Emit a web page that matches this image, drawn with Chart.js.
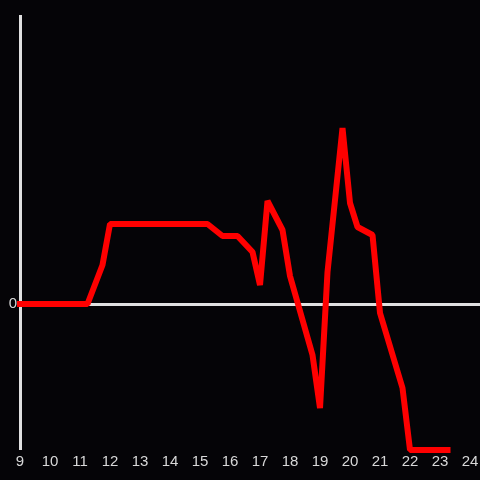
<!DOCTYPE html>
<html>
<head>
<meta charset="utf-8">
<script src="https://cdn.jsdelivr.net/npm/chart.js@4.4.1/dist/chart.umd.min.js"></script>
<style>
  html, body { margin: 0; padding: 0; background: #050407; }
  canvas { display: block; }
</style>
</head>
<body>
<canvas id="chart" width="480" height="480"></canvas>
<script>
// hour of day for each vertex of the line
const hours = [9, 11.25, 11.75, 12, 15.25, 15.75, 16.25, 16.75, 17, 17.25, 17.75, 18,
  18.75, 19, 19.25, 19.75, 20, 20.25, 20.75, 21, 21.75, 22, 23.25];
// values (arbitrary units, 0 = baseline)
const values = [0, 0, 39, 80, 80, 68, 68, 52, 19, 103, 74, 28,
  -51, -104, 32, 176, 101, 77, 69, -9, -84, -146, -146];
const xTicks = [9, 10, 11, 12, 13, 14, 15, 16, 17, 18, 19, 20, 21, 22, 23, 24];
const yTicks = [0];

const points = hours.map((h, i) => ({ x: h, y: values[i] }));

new Chart(document.getElementById('chart').getContext('2d'), {
  type: 'line',
  data: {
    datasets: [{
      data: points,
      borderColor: '#ff0000',
      borderWidth: 6,
      borderCapStyle: 'square',
      borderJoinStyle: 'bevel',
      pointRadius: 0,
      tension: 0,
      fill: false,
      clip: false
    }]
  },
  options: {
    responsive: false,
    animation: false,
    layout: { padding: { top: 16, right: 0, left: 0, bottom: 0 } },
    plugins: { legend: { display: false }, tooltip: { enabled: false } },
    scales: {
      x: {
        type: 'linear',
        min: 9,
        max: 24.333,
        afterBuildTicks: (axis) => { axis.ticks = xTicks.map(v => ({ value: v })); },
        afterFit: (axis) => {
          axis.height = 32;
          axis.paddingLeft = 0;
          axis.paddingRight = 0;
        },
        grid: { display: false, drawTicks: false },
        border: { display: false },
        ticks: {
          color: '#d8d8d8',
          padding: 5,
          maxRotation: 0,
          autoSkip: false,
          font: { family: 'Liberation Sans', size: 15 }
        }
      },
      y: {
        min: -144,
        max: 288,
        afterBuildTicks: (axis) => { axis.ticks = yTicks.map(v => ({ value: v })); },
        afterFit: (axis) => { axis.width = 20; },
        grid: { color: '#e0e0e0', lineWidth: 3, drawTicks: false },
        border: { display: true, color: '#e0e0e0', width: 3 },
        ticks: {
          color: '#d8d8d8',
          padding: 3,
          font: { family: 'Liberation Sans', size: 15 }
        }
      }
    }
  }
});
</script>
</body>
</html>
